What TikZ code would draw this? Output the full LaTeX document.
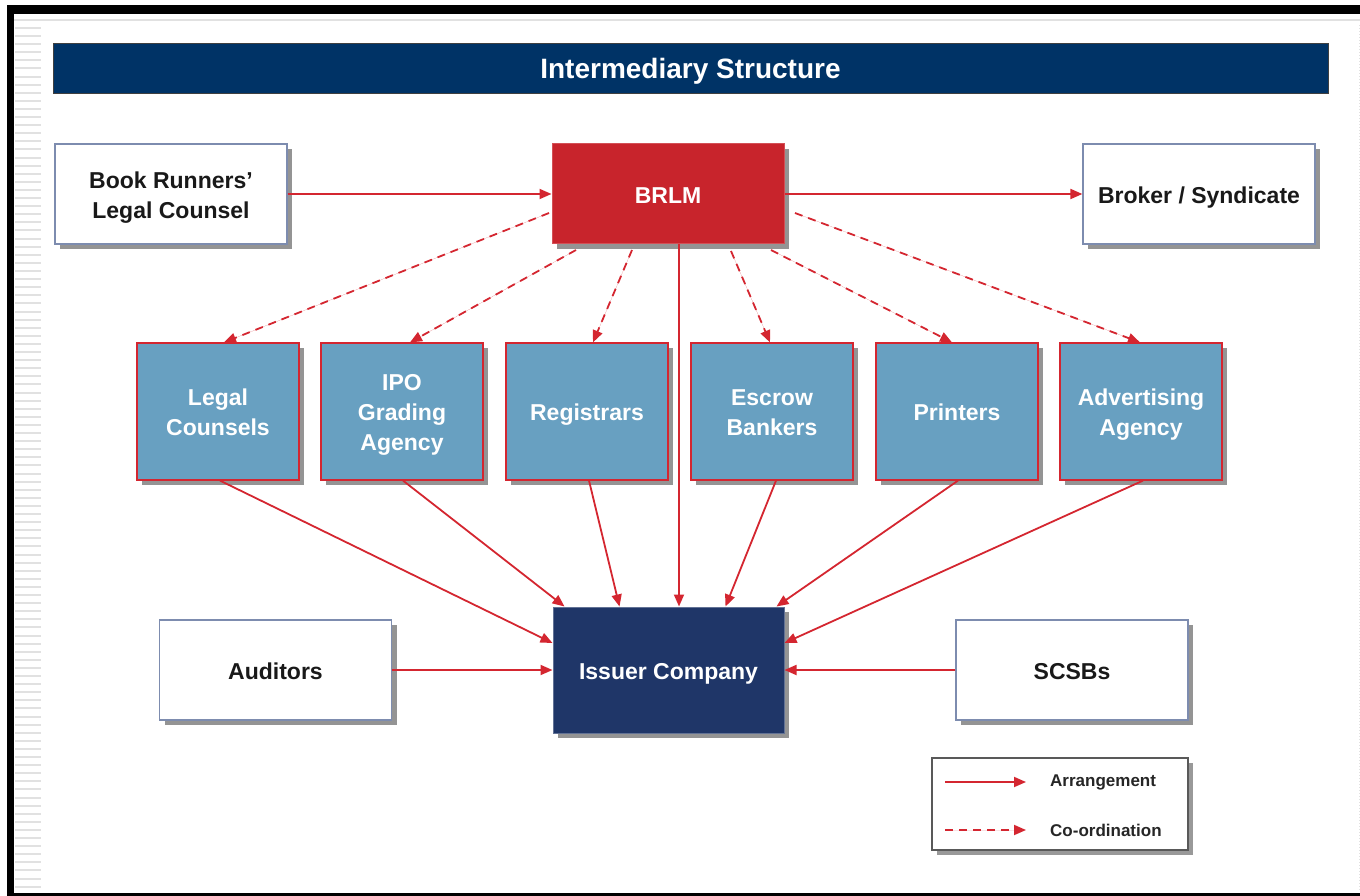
\documentclass[tikz,border=0pt]{standalone}
\usepackage{fontspec}
\setmainfont{Liberation Sans}
\usetikzlibrary{arrows.meta,shadows}
\definecolor{titlenavy}{RGB}{0,51,102}
\definecolor{brlmred}{RGB}{200,36,44}
\definecolor{midblue}{RGB}{104,160,193}
\definecolor{issuernavy}{RGB}{31,54,104}
\definecolor{linkred}{RGB}{212,38,48}
\definecolor{framegrey}{RGB}{225,225,225}
\definecolor{boxedge}{RGB}{125,140,175}
\begin{document}
\begin{tikzpicture}[x=1pt,y=-1pt,
  box/.style={rectangle, inner sep=0pt, align=center,
    font=\fontsize{23}{30}\selectfont\bfseries, text depth=0pt,
    text height=18.5pt,
    drop shadow={shadow xshift=5pt,shadow yshift=-5pt,fill=black!42,opacity=1}},
  twolines/.style={text height=48.5pt},
  threelines/.style={text height=78.5pt},
  whitebox/.style={box, fill=white, draw=boxedge, line width=1.2pt,
    minimum width=232pt, minimum height=100pt, text=black!90},
  redbox/.style={box, fill=brlmred, draw=brlmred!80!white, line width=1pt,
    minimum width=232pt, minimum height=100pt, text=white},
  bluebox/.style={box, fill=midblue, draw=linkred, line width=1.2pt,
    minimum width=162pt, minimum height=137pt, text=white},
  navybox/.style={box, fill=issuernavy, draw=issuernavy!70!white, line width=1pt,
    minimum width=231pt, minimum height=126pt, text=white},
  arr/.style={draw=linkred, line width=1.8pt,
    -{Triangle[length=12pt,width=10pt]}, fill=linkred},
  darr/.style={arr, dash pattern=on 8pt off 6pt}
]
\useasboundingbox (0,0) rectangle (1360,896);

% page frame
\fill[black] (7,5) rectangle (1360,14);
\fill[black] (7,5) rectangle (14,896);
\fill[black] (7,893) rectangle (1360,896);
\draw[framegrey, line width=1.5pt] (14,20) -- (1360,20);
\foreach \k in {0,...,106} {
  \draw[framegrey, line width=2pt] (15,28+8.1*\k) -- (41,28+8.1*\k);
}
\draw[framegrey, line width=1pt, dotted] (1359,25) -- (1359,890);

% title bar
\node[rectangle, fill=titlenavy, draw=black!75, line width=1pt,
  minimum width=1275pt, minimum height=50pt, inner sep=0pt,
  text height=20pt, text depth=0pt,
  text=white, font=\fontsize{28}{32}\selectfont\bfseries]
  (title) at (690.5,69) {Intermediary Structure};

% top row
\node[whitebox, twolines] (brc) at (171,194) {Book Runners'\\Legal Counsel};
\node[redbox] (brlm) at (668,194) {BRLM};
\node[whitebox] (broker) at (1199,194) {Broker / Syndicate};

% intermediaries
\node[bluebox, twolines] (legal) at (218,411.5) {Legal\\Counsels};
\node[bluebox, threelines] (ipo) at (402,411.5) {IPO\\Grading\\Agency};
\node[bluebox] (reg) at (587,411.5) {Registrars};
\node[bluebox, twolines] (escrow) at (772,411.5) {Escrow\\Bankers};
\node[bluebox] (print) at (957,411.5) {Printers};
\node[bluebox, twolines] (adv) at (1141,411.5) {Advertising\\Agency};

% bottom row
\node[whitebox] (aud) at (275.5,670) {Auditors};
\node[navybox] (issuer) at (668.5,670) {Issuer Company};
\node[whitebox] (scsb) at (1072,670) {SCSBs};

% arrangement links
\draw[arr] (brc.east) -- (brlm.west);
\draw[arr] (brlm.east) -- (broker.west);
\draw[arr] ([xshift=11pt]brlm.south) -- ([xshift=10.5pt]issuer.north);
\draw[arr] ([xshift=2pt]legal.south) -- ([yshift=27pt]issuer.west);
\draw[arr] ([xshift=1pt]ipo.south) -- ([xshift=12pt]issuer.north west);
\draw[arr] ([xshift=2pt]reg.south) -- ([xshift=67pt]issuer.north west);
\draw[arr] ([xshift=4pt]escrow.south) -- ([xshift=-59pt]issuer.north east);
\draw[arr] ([xshift=1pt]print.south) -- ([xshift=-8pt]issuer.north east);
\draw[arr] ([xshift=2pt]adv.south) -- ([yshift=27pt]issuer.east);
\draw[arr] (aud.east) -- (issuer.west |- aud.east);
\draw[arr] (scsb.west) -- (issuer.east |- scsb.west);

% co-ordination links
\coordinate (d1) at (549,213);
\coordinate (d2) at (576,250);
\coordinate (d3) at (632,250);
\coordinate (d4) at (731,251);
\coordinate (d5) at (771,250);
\coordinate (d6) at (795,213);
\draw[darr] (d1) -- ([xshift=6pt]legal.north);
\draw[darr] (d2) -- ([xshift=8pt]ipo.north);
\draw[darr] (d3) -- ([xshift=6pt]reg.north);
\draw[darr] (d4) -- ([xshift=-2pt]escrow.north);
\draw[darr] (d5) -- ([xshift=-5pt]print.north);
\draw[darr] (d6) -- ([xshift=-1pt]adv.north);

% legend
\node[rectangle, fill=white, draw=black!65, line width=1.5pt,
  minimum width=256pt, minimum height=92pt, inner sep=0pt,
  drop shadow={shadow xshift=5pt,shadow yshift=-5pt,fill=black!40,opacity=1}]
  (legend) at (1060,804) {};
\coordinate (la1) at (945,782);
\coordinate (la2) at (1026,782);
\coordinate (lb1) at (945,830);
\coordinate (lb2) at (1026,830);
\draw[arr] (la1) -- (la2);
\draw[darr] (lb1) -- (lb2);
\node[anchor=west, inner sep=0pt, font=\fontsize{17}{20}\selectfont\bfseries, text=black!85]
  (larr) at (1050,782) {Arrangement};
\node[anchor=west, inner sep=0pt, font=\fontsize{17}{20}\selectfont\bfseries, text=black!85]
  (lcoord) at (1050,830) {Co-ordination};
\end{tikzpicture}
\end{document}
